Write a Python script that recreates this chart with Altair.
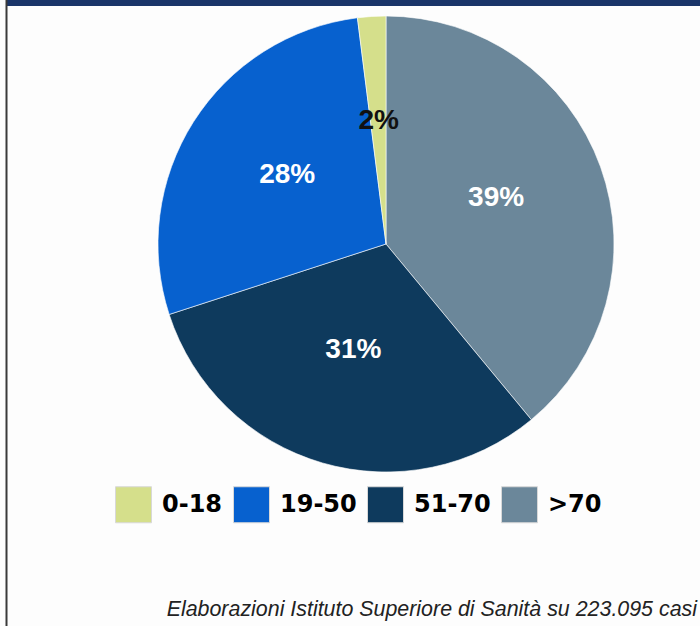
import altair as alt
import pandas as pd

# Data (clockwise order from 12 o'clock)
categories = [">70", "51-70", "19-50", "0-18"]
values = [39, 31, 28, 2]
legend_order = ["0-18", "19-50", "51-70", ">70"]
legend_colors = ["#d5df8b", "#0761cf", "#0e3a5d", "#6b879a"]
caption = "Elaborazioni Istituto Superiore di Sanità su 223.095 casi"

df = pd.DataFrame({"category": categories, "value": values, "rank": list(range(len(categories)))})

W, H = 700, 626
CX, CY, R = 386, 244, 228

base = alt.Chart(df).transform_calculate(label="datum.value + '%'")

color = alt.Color(
    "category:N",
    scale=alt.Scale(domain=legend_order, range=legend_colors),
    legend=alt.Legend(
        title=None,
        orient="none",
        legendX=115,
        legendY=486,
        direction="horizontal",
        symbolType="square",
        symbolSize=1296,
        symbolStrokeColor="#d8d8d8",
        symbolStrokeWidth=1,
        symbolOpacity=1,
        labelFont="DejaVu Sans",
        labelFontSize=24,
        labelFontWeight="bold",
        labelColor="#000000",
        labelOffset=10,
        columnPadding=8,
        labelLimit=200,
    ),
)

arcs = base.mark_arc(stroke="#ffffff", strokeWidth=1, strokeOpacity=0.6).encode(
    theta=alt.Theta("value:Q", stack=True),
    color=color,
    order=alt.Order("rank:Q"),
    x=alt.value(CX),
    y=alt.value(CY),
    radius=alt.value(R),
)

labels = base.mark_text(
    radius=117, dy=-6, font="Liberation Sans", fontSize=28, fontWeight="bold"
).encode(
    theta=alt.Theta("value:Q", stack=True),
    order=alt.Order("rank:Q"),
    text="label:N",
    x=alt.value(CX),
    y=alt.value(CY),
    color=alt.condition(alt.datum.category == "0-18", alt.value("#111111"), alt.value("#ffffff")),
)

deco = alt.Data(values=[{}])
top_bar = alt.Chart(deco).mark_rect(color="#1a3569").encode(
    x=alt.value(6), x2=alt.value(W), y=alt.value(0), y2=alt.value(6)
)
left_line = alt.Chart(deco).mark_rule(color="#3a3a3a", strokeWidth=2).encode(
    x=alt.value(6.5), y=alt.value(0), y2=alt.value(H)
)
cap = alt.Chart(deco).mark_text(
    text=caption, font="Liberation Sans", fontStyle="italic", fontSize=21.4,
    align="right", baseline="alphabetic", color="#222222"
).encode(x=alt.value(697), y=alt.value(616))

chart = alt.layer(top_bar, left_line, arcs, labels, cap).properties(
    width=W, height=H, padding=0, autosize=alt.AutoSizeParams(type="none"),
    background="#fdfdfd"
).configure_view(stroke=None)

chart.save("out.html", embed_options={"renderer": "svg", "actions": False})
